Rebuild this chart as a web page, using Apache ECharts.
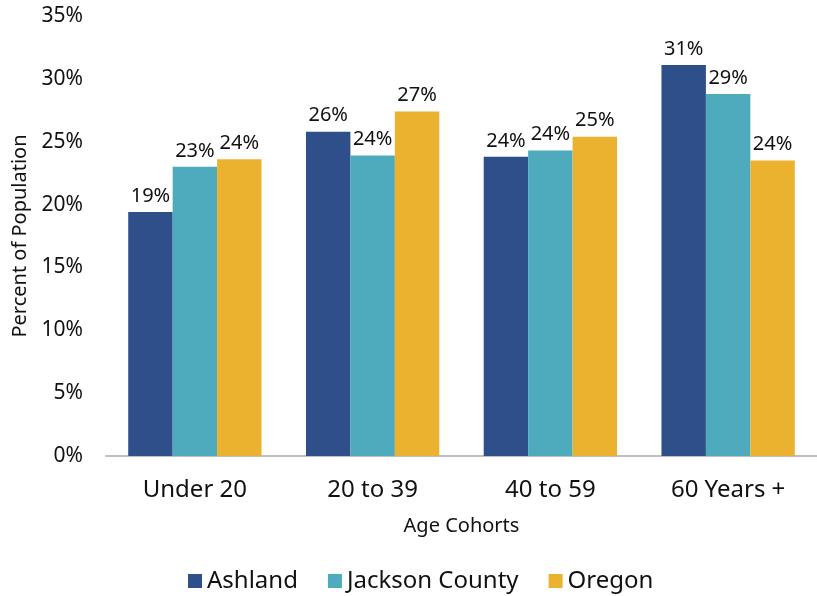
<!DOCTYPE html>
<html>
<head>
<meta charset="utf-8">
<script src="https://cdn.jsdelivr.net/npm/echarts@6/dist/echarts.min.js"></script>
<style>
html, body { margin: 0; padding: 0; background: #fff; }
#main { width: 817px; height: 596px; }
</style>
</head>
<body>
<div id="main"></div>
<script>
// data
var categories = ['Under 20', '20 to 39', '40 to 59', '60 Years +'];
var ashland = [19.4, 25.8, 23.8, 31.1];
var jackson = [23.0, 23.9, 24.3, 28.8];
var oregon = [23.6, 27.4, 25.4, 23.5];
var seriesNames = ['Ashland', 'Jackson County', 'Oregon'];

var myChart = echarts.init(document.getElementById('main'));
var font = 'Noto Sans';

function makeSeries(name, data, color) {
    return {
        name: name,
        type: 'bar',
        data: data,
        barGap: '0%',
        barCategoryGap: '25%',
        itemStyle: { color: color },
        label: {
            show: true,
            position: 'top',
            distance: 6,
            color: '#111',
            fontFamily: font,
            fontSize: 20,
            formatter: function(p) { return Math.round(p.value) + '%'; }
        }
    };
}

var option = {
    animation: false,
    textStyle: { fontFamily: font },
    grid: { left: 106, right: 0, top: 16, bottom: 140 },
    legend: {
        data: seriesNames,
        bottom: -2,
        left: 183,
        icon: 'rect',
        itemWidth: 14,
        itemHeight: 14,
        itemGap: 30,
        textStyle: { fontSize: 24, color: '#111', fontFamily: font }
    },
    xAxis: {
        type: 'category',
        data: categories,
        name: 'Age Cohorts',
        nameLocation: 'middle',
        nameGap: 60,
        nameTextStyle: { fontSize: 20, color: '#111' },
        axisLine: { lineStyle: { color: '#bfbfbf', width: 2 } },
        axisTick: { show: false },
        axisLabel: { fontSize: 24, color: '#111', margin: 22 }
    },
    yAxis: {
        type: 'value',
        min: 0,
        max: 35,
        interval: 5,
        name: 'Percent of Population',
        nameLocation: 'middle',
        nameGap: 74,
        nameTextStyle: { fontSize: 20, color: '#111' },
        axisLine: { show: false },
        axisTick: { show: false },
        splitLine: { show: false },
        axisLabel: {
            fontSize: 21,
            color: '#111',
            margin: 23,
            formatter: '{value}%'
        }
    },
    series: [
        makeSeries(seriesNames[0], ashland, '#2e4f8a'),
        makeSeries(seriesNames[1], jackson, '#4eaabd'),
        makeSeries(seriesNames[2], oregon, '#ebb22f')
    ]
};
myChart.setOption(option);
</script>
</body>
</html>
